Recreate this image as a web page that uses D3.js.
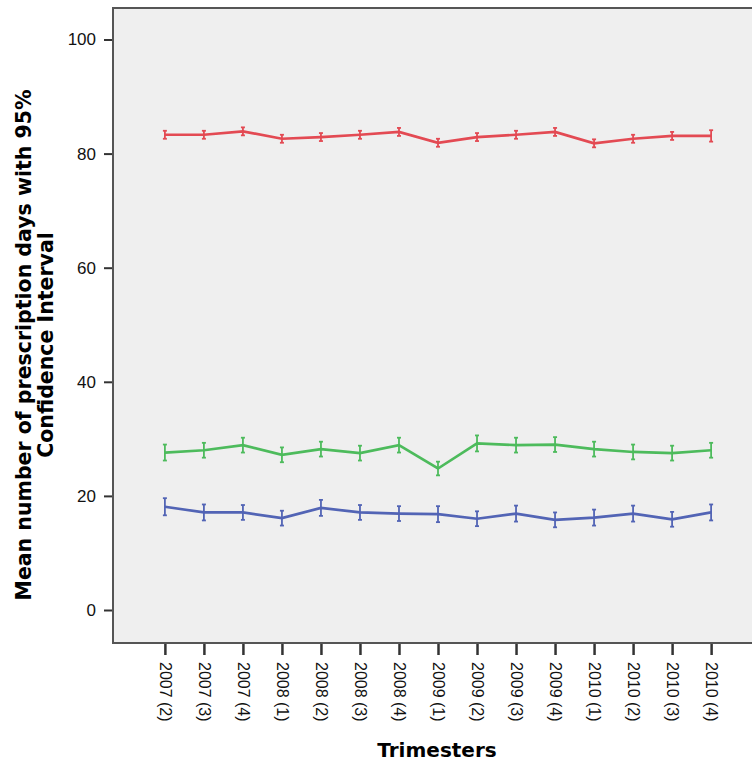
<!DOCTYPE html>
<html>
<head>
<meta charset="utf-8">
<script src="https://cdn.jsdelivr.net/npm/d3@7"></script>
<style>
  body { margin: 0; background: #fff; }
  svg { display: block; font-family: "DejaVu Sans", sans-serif; }
</style>
</head>
<body>
<div id="container"></div>
<script>
const width = 752,
  height = 761,
  margin = { top: 8, bottom: 118, left: 113, right: -11 };

const trimesters = ["2007 (2)", "2007 (3)", "2007 (4)", "2008 (1)", "2008 (2)", "2008 (3)", "2008 (4)",
  "2009 (1)", "2009 (2)", "2009 (3)", "2009 (4)", "2010 (1)", "2010 (2)", "2010 (3)", "2010 (4)"];

const redMean = [83.3, 83.3, 83.9, 82.6, 82.9, 83.3, 83.8, 81.9, 82.9, 83.3, 83.8, 81.8, 82.6, 83.1, 83.1];
const redCI = [0.7, 0.7, 0.7, 0.7, 0.7, 0.7, 0.7, 0.7, 0.7, 0.7, 0.7, 0.7, 0.7, 0.7, 1.0];

const greenMean = [27.6, 28.0, 28.9, 27.2, 28.2, 27.5, 28.9, 24.8, 29.2, 28.9, 29.0, 28.2, 27.7, 27.5, 28.0];
const greenCI = [1.4, 1.3, 1.3, 1.3, 1.3, 1.3, 1.3, 1.2, 1.4, 1.3, 1.3, 1.3, 1.3, 1.3, 1.3];

const blueMean = [18.1, 17.1, 17.1, 16.1, 17.9, 17.1, 16.9, 16.8, 16.0, 16.9, 15.8, 16.2, 16.9, 15.9, 17.1];
const blueCI = [1.5, 1.4, 1.3, 1.3, 1.4, 1.3, 1.3, 1.4, 1.3, 1.4, 1.3, 1.4, 1.4, 1.3, 1.4];

const yTicks = [0, 20, 40, 60, 80, 100];

const series = [
  { mean: redMean, ci: redCI, color: "#e34a53" },
  { mean: greenMean, ci: greenCI, color: "#4dbb5c" },
  { mean: blueMean, ci: blueCI, color: "#5264b5" }
];

const plotRight = width - margin.right;

const xScale = d3.scalePoint()
  .domain(trimesters)
  .range([margin.left, plotRight])
  .padding(1.33)

const yScale = d3.scaleLinear()
  .domain([0, 100])
  .range([610, 39.5])

const svg = d3.select("#container")
  .append("svg")
  .attr("width", width)
  .attr("height", height)

// plot background + frame
svg.append("rect")
  .attr("x", margin.left)
  .attr("y", margin.top)
  .attr("width", plotRight - margin.left)
  .attr("height", height - margin.bottom - margin.top)
  .attr("fill", "#efefef")
  .attr("stroke", "#555")
  .attr("stroke-width", 2)

// lines + error bars
series.forEach(s => {
  const pts = trimesters.map((t, i) => ({ t, m: s.mean[i], c: s.ci[i] }));

  svg.append("path")
    .datum(pts)
    .attr("fill", "none")
    .attr("stroke", s.color)
    .attr("stroke-width", 2.7)
    .attr("d", d3.line().x(d => xScale(d.t)).y(d => yScale(d.m)))

  const bars = svg.append("g")
    .selectAll("g")
    .data(pts)
    .join("g")
    .attr("stroke", s.color)
    .attr("stroke-width", 1.8)

  bars.append("line")
    .attr("x1", d => xScale(d.t)).attr("x2", d => xScale(d.t))
    .attr("y1", d => yScale(d.m - d.c)).attr("y2", d => yScale(d.m + d.c))

  bars.append("line")
    .attr("x1", d => xScale(d.t) - 2).attr("x2", d => xScale(d.t) + 2)
    .attr("y1", d => yScale(d.m - d.c)).attr("y2", d => yScale(d.m - d.c))

  bars.append("line")
    .attr("x1", d => xScale(d.t) - 2).attr("x2", d => xScale(d.t) + 2)
    .attr("y1", d => yScale(d.m + d.c)).attr("y2", d => yScale(d.m + d.c))
});

// y axis
const yAxisGroup = svg.append("g")
  .attr("transform", `translate(${margin.left - 1},0)`)
  .call(d3.axisLeft(yScale).tickValues(yTicks).tickSize(8).tickPadding(8))

yAxisGroup.select(".domain").remove()
yAxisGroup.selectAll(".tick line").attr("stroke", "#333").attr("stroke-width", 2)
yAxisGroup.selectAll(".tick text")
  .style("font-size", "17px")
  .attr("fill", "#111")

// x axis
const xAxisGroup = svg.append("g")
  .attr("transform", `translate(0,${height - margin.bottom + 1})`)
  .call(d3.axisBottom(xScale).tickSize(11).tickPadding(6))

xAxisGroup.select(".domain").remove()
xAxisGroup.selectAll(".tick line").attr("stroke", "#333").attr("stroke-width", 2.5)
xAxisGroup.selectAll(".tick text")
  .style("font-size", "16px")
  .attr("fill", "#111")
  .attr("text-anchor", "start")
  .attr("dy", "0.35em")
  .attr("transform", "translate(0,18) rotate(90)")
  .attr("y", 0)
  .attr("x", 0)

// axis titles
svg.append("text")
  .attr("text-anchor", "middle")
  .attr("x", 437)
  .attr("y", 757)
  .style("font-size", "20px")
  .style("font-weight", "bold")
  .text("Trimesters")

const yTitle = svg.append("text")
  .attr("text-anchor", "middle")
  .attr("transform", "translate(31,345) rotate(-90)")
  .style("font-size", "20.5px")
  .style("font-weight", "bold")

yTitle.append("tspan").attr("x", 0).attr("y", 0).text("Mean number of prescription days with 95%")
yTitle.append("tspan").attr("x", 0).attr("y", 22).text("Confidence Interval")
</script>
</body>
</html>
